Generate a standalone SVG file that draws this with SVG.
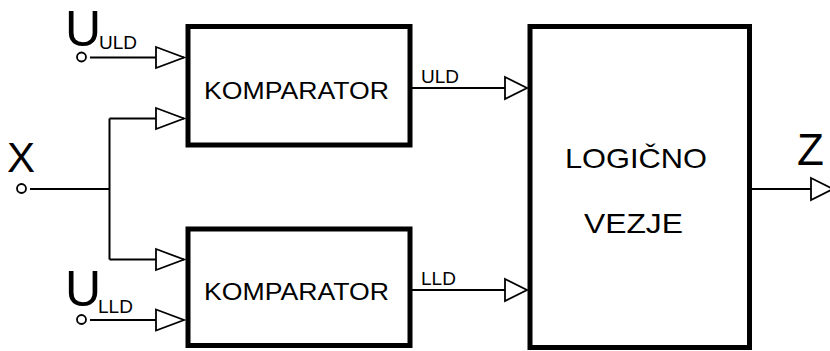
<svg xmlns="http://www.w3.org/2000/svg" width="830" height="351" viewBox="0 0 830 351">
  <style>
    .box { fill: #fff; stroke: #000; stroke-width: 5; }
    .wire { fill: none; stroke: #000; stroke-width: 2; }
    .term { fill: #fff; stroke: #000; stroke-width: 1.8; }
    text { font-family: "Liberation Sans", Arial, sans-serif; fill: #000; }
    .blk { font-size: 24px; }
    .big { font-size: 28px; }
    .sig { font-size: 19px; }
  </style>
  <defs>
    <marker id="tri-l" markerUnits="userSpaceOnUse" viewBox="-1 -1 30 23" refX="28" refY="10.5" markerWidth="30" markerHeight="23" orient="auto" overflow="visible">
      <path d="M0,0 L28,10.5 L0,21 Z" fill="#fff" stroke="#000" stroke-width="1.8"/>
    </marker>
    <marker id="tri-m" markerUnits="userSpaceOnUse" viewBox="-1 -1 24 24" refX="22" refY="11" markerWidth="24" markerHeight="24" orient="auto" overflow="visible">
      <path d="M0,0 L22,11 L0,22 Z" fill="#fff" stroke="#000" stroke-width="1.8"/>
    </marker>
  </defs>

  <g id="connectors">
    <!-- U_ULD reference input -->
    <path class="wire" d="M90,57.5 H184" marker-end="url(#tri-l)"/>
    <!-- X input, split to both comparators -->
    <path class="wire" d="M30,189 H109.5 M109.5,118.5 V259.5"/>
    <path class="wire" d="M109.5,118.5 H184" marker-end="url(#tri-l)"/>
    <path class="wire" d="M109.5,259.5 H184" marker-end="url(#tri-l)"/>
    <!-- U_LLD reference input -->
    <path class="wire" d="M90,320 H184" marker-end="url(#tri-l)"/>
    <!-- comparator outputs -->
    <path class="wire" d="M412,88 H527" marker-end="url(#tri-m)"/>
    <path class="wire" d="M412,290 H527" marker-end="url(#tri-m)"/>
    <!-- output Z -->
    <path class="wire" d="M752,189 H833" marker-end="url(#tri-m)"/>
  </g>

  <g id="in-uuld">
    <circle class="term" cx="81.5" cy="57" r="4.5"/>
    <text x="65" y="46" style="font-size:50px">U</text>
    <text class="sig" x="99" y="49">ULD</text>
  </g>

  <g id="in-x">
    <circle class="term" cx="21.5" cy="188.5" r="4.5"/>
    <text x="7" y="172" style="font-size:42px">X</text>
  </g>

  <g id="in-ulld">
    <circle class="term" cx="81.5" cy="319.5" r="4.5"/>
    <text x="65" y="306" style="font-size:50px">U</text>
    <text class="sig" x="98" y="313">LLD</text>
  </g>

  <g id="comp-upper">
    <rect class="box" x="188" y="26.5" width="222" height="118.5"/>
    <text class="blk" x="204" y="99" textLength="185" lengthAdjust="spacingAndGlyphs">KOMPARATOR</text>
  </g>

  <g id="comp-lower">
    <rect class="box" x="188" y="229" width="222" height="116.5"/>
    <text class="blk" x="204" y="300" textLength="185" lengthAdjust="spacingAndGlyphs">KOMPARATOR</text>
  </g>

  <g id="lbl-uld">
    <text class="sig" x="421" y="83">ULD</text>
  </g>
  <g id="lbl-lld">
    <text class="sig" x="421" y="285">LLD</text>
  </g>

  <g id="logic">
    <rect class="box" x="530" y="26.5" width="219.5" height="321"/>
    <text class="big" x="565" y="168" textLength="142" lengthAdjust="spacingAndGlyphs">LOGIČNO</text>
    <text class="big" x="584" y="233" textLength="99" lengthAdjust="spacingAndGlyphs">VEZJE</text>
  </g>

  <g id="out-z">
    <text x="797" y="165" style="font-size:44px">Z</text>
  </g>
</svg>
